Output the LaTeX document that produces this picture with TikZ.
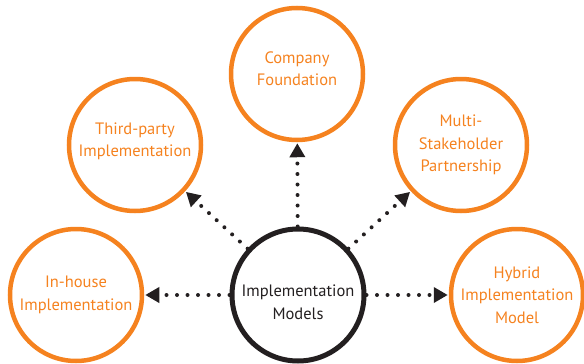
\documentclass[tikz,border=0pt]{standalone}
\usepackage{fontspec}
\setmainfont{PT Sans}
\usetikzlibrary{arrows.meta}
\definecolor{orng}{HTML}{F5821F}
\definecolor{dk}{HTML}{231F20}
\begin{document}
\begin{tikzpicture}[x=1pt,y=-1pt,
  outer/.style={circle,draw=orng,line width=4.5pt,minimum size=132pt,inner sep=0pt,
    text=orng,align=center,font=\fontsize{16.5}{22.5}\selectfont},
  hub/.style={circle,draw=dk,line width=5pt,minimum size=132pt,inner sep=0pt,
    text=dk,align=center,font=\fontsize{16.5}{22.5}\selectfont},
  link/.style={draw=dk,line width=4pt,line cap=round,dash pattern=on 0pt off 10.5pt,
    -{Triangle[length=14pt,width=15pt]},shorten >=1pt}]
\useasboundingbox (0,0) rectangle (584,364);
\node[hub] (c) at (298,295) {\mbox{}\\[4pt]Implementation\\Models};
\node[outer] (cf) at (297,74) {Company\\Foundation\\[-12pt]\mbox{}};
\node[outer] (tp) at (135,145) {Third-party\\Implementation\\[-12pt]\mbox{}};
\node[outer] (ms) at (461,145) {Multi-\\Stakeholder\\Partnership};
\node[outer] (ih) at (76,295) {In-house\\Implementation};
\node[outer] (hy) at (517,295) {Hybrid\\Implementation\\Model};
\draw[link] (c) -- (cf);
\draw[link] (c) -- (tp);
\draw[link] (c) -- (ms);
\draw[link] (c) -- (ih);
\draw[link] (c) -- (hy);
\end{tikzpicture}
\end{document}
